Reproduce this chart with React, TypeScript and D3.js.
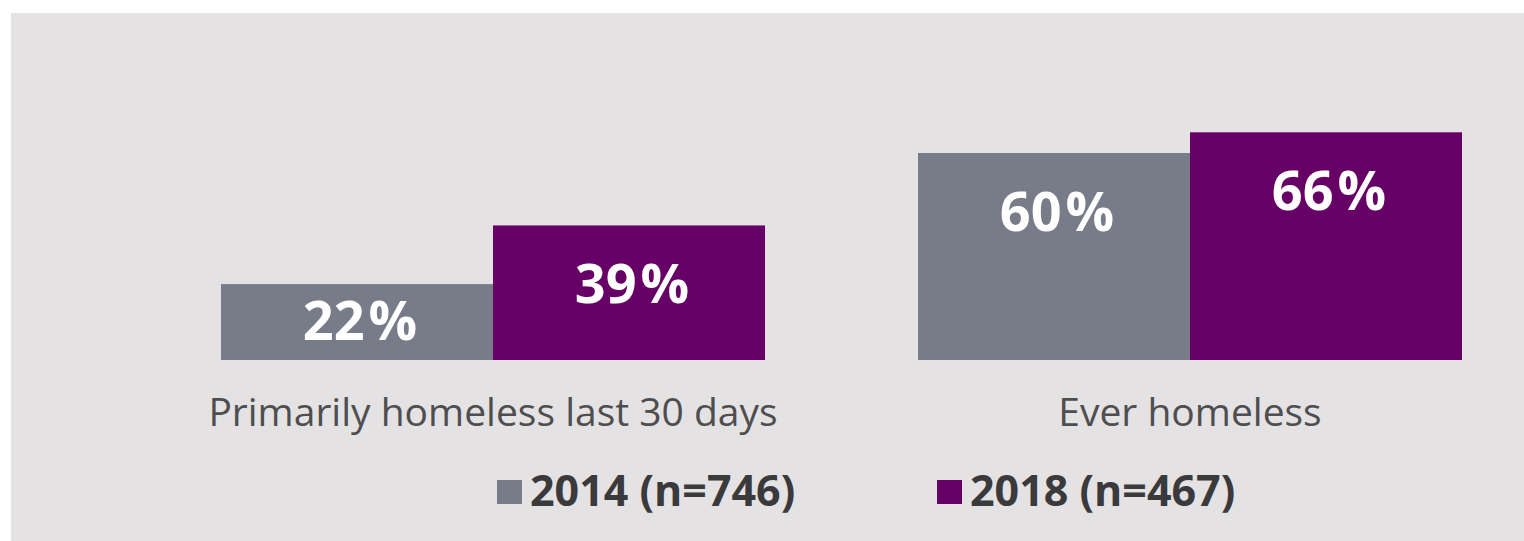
import React, { useEffect, useRef } from 'react';
import * as d3 from 'd3';

const categories = ['Primarily homeless last 30 days', 'Ever homeless'];
const seriesNames = ['2014', '2018'];
const legendLabels = ['2014 (n=746)', '2018 (n=467)'];
const values2014 = [22, 60];
const values2018 = [39, 66];
const colors = ['#787c88', '#660066'];

const W = 1524;
const H = 541;

export default function App() {
  const svgRef = useRef<SVGSVGElement>(null);

  useEffect(() => {
    if (!svgRef.current) return;
    const svg = d3.select(svgRef.current);
    svg.selectAll('*').remove();

    // panel background
    svg.append('rect')
      .attr('x', 11).attr('y', 13)
      .attr('width', W - 11).attr('height', H - 13)
      .attr('fill', '#e4e2e3');

    const x0 = d3.scaleBand<string>()
      .domain(categories)
      .range([221, 1462])
      .paddingInner(0.2195)
      .paddingOuter(0);

    const x1 = d3.scaleBand<string>()
      .domain(seriesNames)
      .range([0, x0.bandwidth()])
      .padding(0);

    const y = d3.scaleLinear().domain([0, 100]).range([360, 15]);

    const rows = categories.map((c, i) => ({
      category: c,
      values: [values2014[i], values2018[i]],
    }));

    const g = svg.append('g');

    const groups = g.selectAll('g.group')
      .data(rows)
      .enter()
      .append('g')
      .attr('transform', d => `translate(${x0(d.category)},0)`);

    const bars = groups.selectAll('g.bar')
      .data(d => d.values.map((v, j) => ({ series: seriesNames[j], value: v, j })))
      .enter()
      .append('g');

    bars.append('rect')
      .attr('x', d => x1(d.series)!)
      .attr('y', d => y(d.value))
      .attr('width', x1.bandwidth())
      .attr('height', d => y(0) - y(d.value))
      .attr('fill', d => colors[d.j]);

    // value labels, a little space before the % like the original
    const vl = bars.append('text')
      .attr('x', d => x1(d.series)! + x1.bandwidth() / 2 + 3)
      .attr('y', d => Math.min(y(d.value) + 78, y(0) - 20))
      .attr('text-anchor', 'middle')
      .attr('font-family', '"Open Sans", sans-serif')
      .attr('font-weight', 700)
      .attr('font-size', 54)
      .attr('fill', '#ffffff');
    vl.append('tspan').text(d => `${d.value}`);
    vl.append('tspan').attr('dx', 4).text('%');

    // category labels
    groups.append('text')
      .attr('x', x0.bandwidth() / 2)
      .attr('y', 426)
      .attr('text-anchor', 'middle')
      .attr('font-family', '"Open Sans", sans-serif')
      .attr('font-size', 39)
      .attr('fill', '#4e4e50')
      .text(d => d.category);

    // legend
    const legend = svg.append('g');
    const items = legend.selectAll('g')
      .data(legendLabels)
      .enter()
      .append('g')
      .attr('transform', (_, i) => `translate(${497 + i * 440},0)`);

    items.append('rect')
      .attr('x', 0).attr('y', 480)
      .attr('width', 25).attr('height', 24)
      .attr('fill', (_, i) => colors[i]);

    items.append('text')
      .attr('x', 33)
      .attr('y', 506)
      .attr('font-family', '"Open Sans", sans-serif')
      .attr('font-weight', 700)
      .attr('font-size', 43)
      .attr('fill', '#3a3a3c')
      .text(d => d);
  }, []);

  return (
    <div style={{ position: 'absolute', left: 0, top: 0, width: W, height: H, background: '#ffffff' }}>
      <svg ref={svgRef} width={W} height={H} style={{ display: 'block' }} />
    </div>
  );
}
